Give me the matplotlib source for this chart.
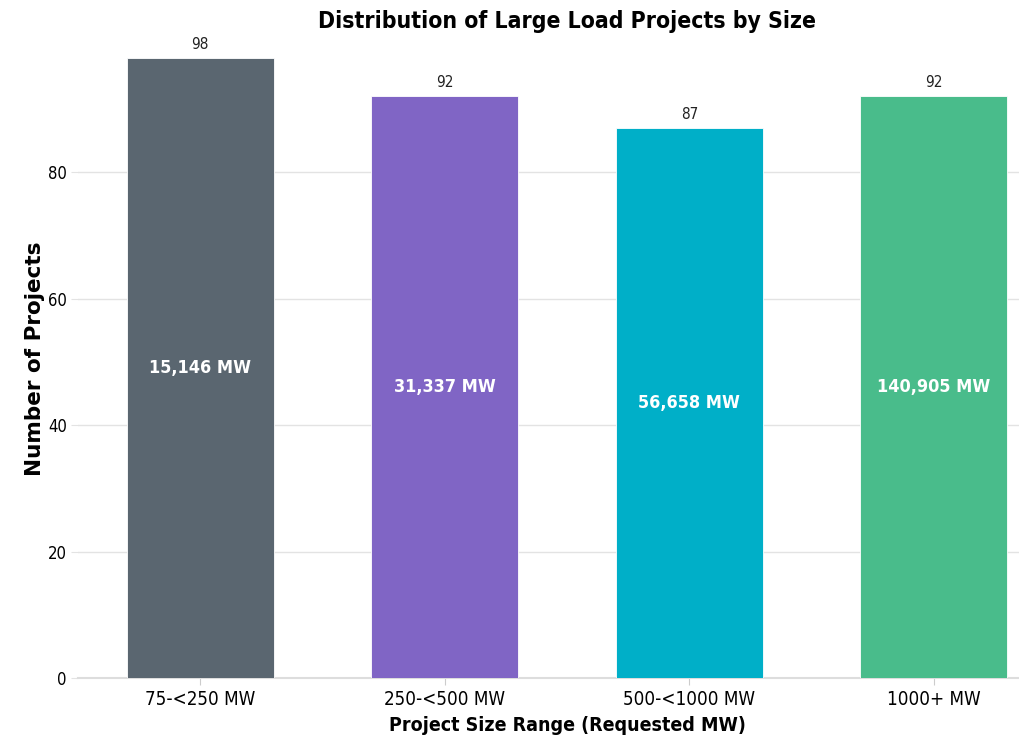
import numpy as np
import matplotlib
matplotlib.use('Agg')
import matplotlib.pyplot as plt
from matplotlib import font_manager

# ── data ─────────────────────────────────────────────────────────────────────
size_ranges = ['75-<250 MW', '250-<500 MW', '500-<1000 MW', '1000+ MW']
project_counts = [98, 92, 87, 92]
total_mw = [15146, 31337, 56658, 140905]

COLORS = ['#5a6670', '#8065c5', '#00afc8', '#49bc8b']
GRID = '#e3e3e3'

cond = [f for f in font_manager.fontManager.ttflist
        if f.name == 'DejaVu Sans' and 'ondensed' in f.fname]
STRETCH = 'condensed' if cond else 'normal'

plt.rcParams.update({
    'font.family': 'DejaVu Sans',
    'font.size': 10,
    'font.stretch': STRETCH,
})

fig = plt.figure(figsize=(10.2, 7.4), dpi=100)
# the plot area runs slightly past the right edge of the canvas
ax = fig.add_axes([0.0765, 0.0838, 0.9588, 0.863])

x = np.arange(len(size_ranges))
bars = ax.bar(x, project_counts, width=0.6, color=COLORS,
              edgecolor='white', linewidth=0.6, zorder=3)

# count labels on top, MW totals in the middle
for xi, n, mw in zip(x, project_counts, total_mw):
    ax.text(xi, n + 1.0, f'{n}', ha='center', va='bottom',
            fontsize=11, color='#222222')
    ax.text(xi, n / 2, f'{mw:,} MW', ha='center', va='center',
            fontsize=13, fontweight='bold', color='white', zorder=4)

ax.set_xlim(-0.5, 3.5)
ax.set_ylim(0, 101)
ax.set_xticks(x)
ax.set_xticklabels(size_ranges, fontsize=13.5)
ax.set_yticks([0, 20, 40, 60, 80])
ax.tick_params(axis='y', labelsize=12, length=5, color=GRID, pad=3)
ax.tick_params(axis='x', length=5, color='#cccccc', pad=4)

ax.yaxis.grid(True, color=GRID, lw=1, zorder=0)
ax.set_axisbelow(True)
for s in ['top', 'right', 'left']:
    ax.spines[s].set_visible(False)
ax.spines['bottom'].set_color('#dddddd')
ax.spines['bottom'].set_linewidth(1.5)

ax.set_xlabel('Project Size Range (Requested MW)', fontsize=14,
              fontweight='bold', labelpad=5)
ax.set_ylabel('Number of Projects', fontsize=15.5, fontweight='bold',
              fontstretch='normal', labelpad=2)
ax.set_title('Distribution of Large Load Projects by Size',
             fontsize=16.5, fontweight='bold', pad=8)

fig.savefig('out.png', dpi=100)
